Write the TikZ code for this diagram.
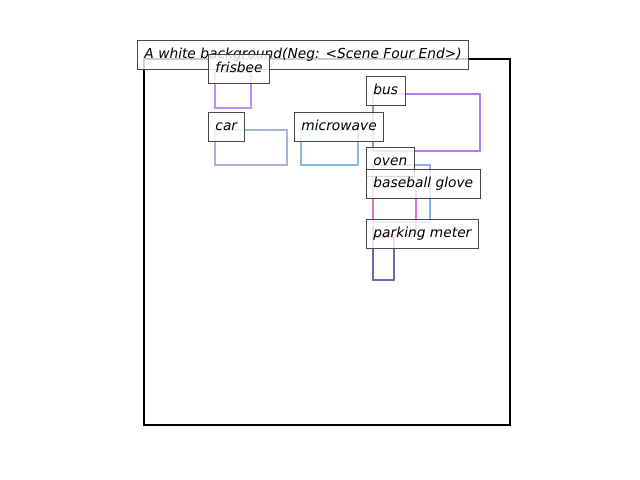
\documentclass[tikz,border=0pt]{standalone}
\usepackage{fontspec}
\setmainfont{DejaVu Sans}
\definecolor{cfris}{RGB}{190,140,255}
\definecolor{cbus}{RGB}{176,122,245}
\definecolor{ccar}{RGB}{165,180,215}
\definecolor{cmicro}{RGB}{135,187,232}
\definecolor{coven}{RGB}{140,176,235}
\definecolor{cglove}{RGB}{228,110,200}
\definecolor{cpark}{RGB}{120,100,185}
\begin{document}
\begin{tikzpicture}[x=0.01in,y=-0.01in,
  obj/.style={line width=1.7pt},
  lab/.style={draw=black!72, fill=white, fill opacity=0.8, text opacity=1,
    line width=0.72pt, inner sep=5.04pt, text height=7.7pt, text depth=2.7pt,
    anchor=base west, font=\itshape\fontsize{9.95}{12}\selectfont}]
\useasboundingbox (0,0) rectangle (640,480);
% scene square
\draw[line width=1.5pt] (144,59) rectangle (510,425);
% object boxes
\draw[obj, cfris] (215,72) rectangle (251,108);
\draw[obj, ccar] (215,130) rectangle (287,165);
\draw[obj, cmicro] (301,130) rectangle (358,165);
\draw[obj, cbus] (373,94) rectangle (480,151);
\draw[obj, coven] (373,165) rectangle (430,222);
\draw[obj, cglove] (373,187) rectangle (416,235);
\draw[obj, cpark] (373,237) rectangle (394,280);
% labels
\node[lab] (title) at (137,58.5) {A white background(Neg: <Scene Four End>)};
\node[lab] (lfris) at (208,72.5) {frisbee};
\node[lab] (lcar) at (208,130.5) {car};
\node[lab] (lmicro) at (294,130.5) {microwave};
\node[lab] (lbus) at (366,94.5) {bus};
\node[lab] (loven) at (366,165.5) {oven};
\node[lab] (lglove) at (366,187.5) {baseball glove};
\node[lab] (lpark) at (366,237.5) {parking meter};
\end{tikzpicture}
\end{document}
